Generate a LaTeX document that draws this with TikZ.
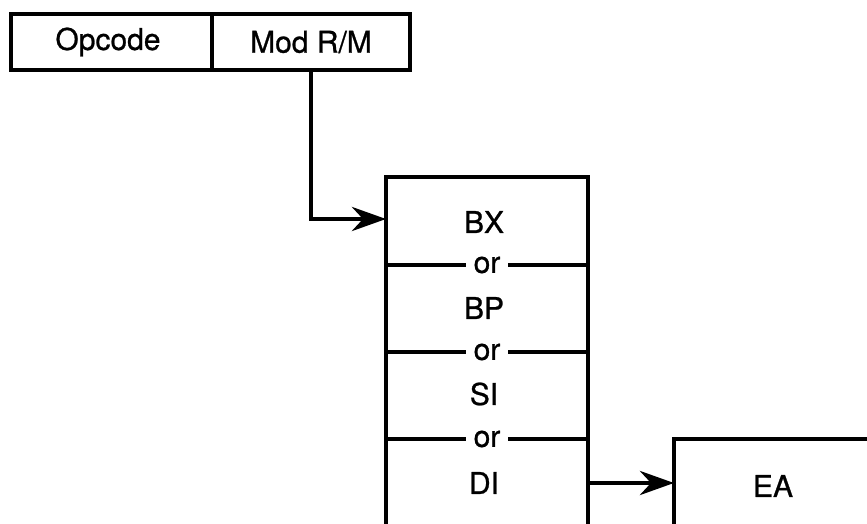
\documentclass[tikz,border=0pt]{standalone}
\usepackage{fontspec}
\setmainfont{TeX Gyre Heros}
\newfontfamily\lblfont[FakeBold=0.8]{TeX Gyre Heros}
\usetikzlibrary{arrows.meta}
\tikzset{
  box/.style={draw, line width=4.8pt, rectangle, inner sep=0pt},
  lbl/.style={font=\lblfont\fontsize{30}{36}\selectfont, inner sep=0pt},
  orlbl/.style={font=\lblfont\fontsize{30}{36}\selectfont, fill=white, inner sep=0pt, inner xsep=8pt},
  sep/.style={line width=4.8pt},
  conn/.style={line width=4.8pt, -{Stealth[length=34pt,width=24pt,inset=11pt]}}
}
\begin{document}
\begin{tikzpicture}[x=1pt,y=-1pt]
\useasboundingbox (0,0) rectangle (867,524);
\clip (0,0) rectangle (867,524);
\fill[white] (0,0) rectangle (867,524);
% top fields
\node[box, minimum width=201pt, minimum height=56pt] (opcode) at (111.5,42) {};
\node[box, minimum width=198pt, minimum height=56pt] (modrm) at (311,42) {};
\node[lbl] (topc) at (108,42) {Opcode};
\node[lbl] (tmod) at (311,42) {Mod R/M};
% register box
\node[box, minimum width=202pt, minimum height=423pt] (regs) at (487,388.5) {};
\node[lbl] (bx) at (484,222) {BX};
\node[lbl] (bp) at (484,308) {BP};
\node[lbl] (si) at (484,394) {SI};
\node[lbl] (di) at (484,483) {DI};
\coordinate (s1l) at (386,265); \coordinate (s1r) at (588,265);
\coordinate (s2l) at (386,352); \coordinate (s2r) at (588,352);
\coordinate (s3l) at (386,439); \coordinate (s3r) at (588,439);
\draw[sep] (s1l) -- node[orlbl] (or1) {or} (s1r);
\draw[sep] (s2l) -- node[orlbl] (or2) {or} (s2r);
\draw[sep] (s3l) -- node[orlbl] (or3) {or} (s3r);
% EA box
\node[box, minimum width=326pt, minimum height=161pt] (ea) at (837,519.5) {};
\node[lbl] (eal) at (773,486) {EA};
% connectors
\coordinate (in1) at (386,219);
\draw[conn] (modrm.south) |- (in1);
\coordinate (out2) at (588,483);
\coordinate (in2) at (674,483);
\draw[conn] (out2) -- (in2);
\end{tikzpicture}
\end{document}
